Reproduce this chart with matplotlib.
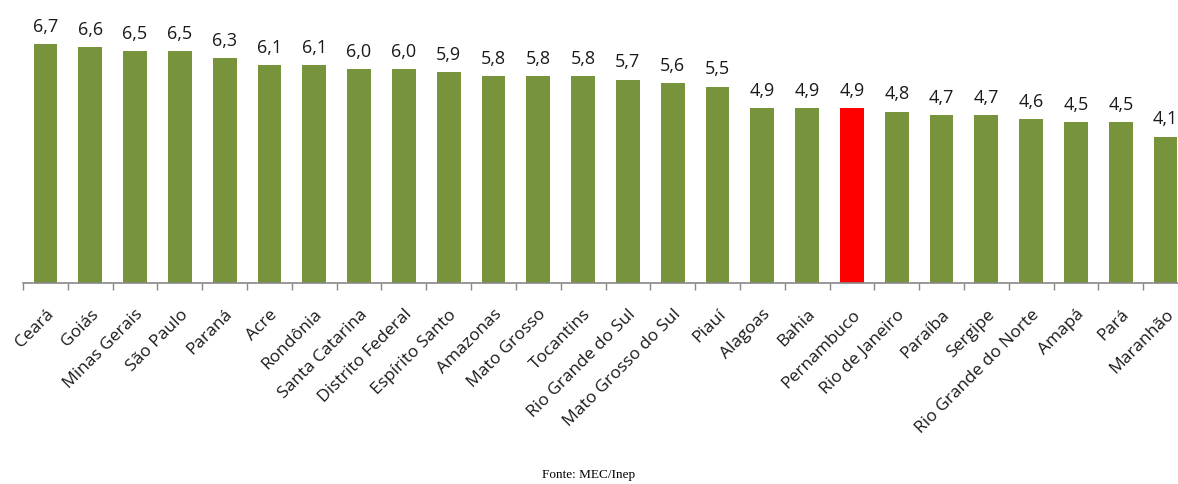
import matplotlib.pyplot as plt
import numpy as np

estados = ["Ceará", "Goiás", "Minas Gerais", "São Paulo", "Paraná", "Acre",
           "Rondônia", "Santa Catarina", "Distrito Federal", "Espírito Santo",
           "Amazonas", "Mato Grosso", "Tocantins", "Rio Grande do Sul",
           "Mato Grosso do Sul", "Piauí", "Alagoas", "Bahia", "Pernambuco",
           "Rio de Janeiro", "Paraíba", "Sergipe", "Rio Grande do Norte",
           "Amapá", "Pará", "Maranhão"]
ideb = [6.7, 6.6, 6.5, 6.5, 6.3, 6.1, 6.1, 6.0, 6.0, 5.9, 5.8, 5.8, 5.8,
        5.7, 5.6, 5.5, 4.9, 4.9, 4.9, 4.8, 4.7, 4.7, 4.6, 4.5, 4.5, 4.1]
destaque = "Pernambuco"

plt.rcParams['font.family'] = ['Open Sans', 'DejaVu Sans']

fig = plt.figure(figsize=(11.78, 4.84), dpi=100)
ax = fig.add_axes([23/1178, 1 - 283/484, 1165/1178, 283/484])

x = np.arange(len(estados))
cores = ['#FF0000' if e == destaque else '#77933C' for e in estados]
bars = ax.bar(x, ideb, width=0.53, color=cores)

for b, v in zip(bars, ideb):
    ax.annotate(f"{v:.1f}".replace('.', ','),
                (b.get_x() + b.get_width()/2, v),
                xytext=(0, 6), textcoords='offset points',
                ha='center', va='bottom', fontsize=13, color='#1a1a1a')

ax.set_xlim(-0.5, len(estados) - 0.5)
ax.set_ylim(0, 7.93)

for s in ['top', 'right', 'left']:
    ax.spines[s].set_visible(False)
ax.spines['bottom'].set_color('#888888')
ax.spines['bottom'].set_linewidth(1.2)
ax.set_yticks([])

ax.set_xticks(x)
ax.set_xticklabels(estados, rotation=45, ha='right', rotation_mode='anchor',
                   fontsize=12.5, color='#1a1a1a')
ax.tick_params(axis='x', which='major', length=0, pad=17)
ax.set_xticks(np.arange(-0.5, len(estados), 1), minor=True)
ax.tick_params(axis='x', which='minor', length=5, color='#888888', width=1)

fig.text(0.5, 1 - 475/484, "Fonte: MEC/Inep", ha='center', va='center',
         fontsize=9.5, family='Liberation Serif')

fig.savefig('out.png', dpi=100)
